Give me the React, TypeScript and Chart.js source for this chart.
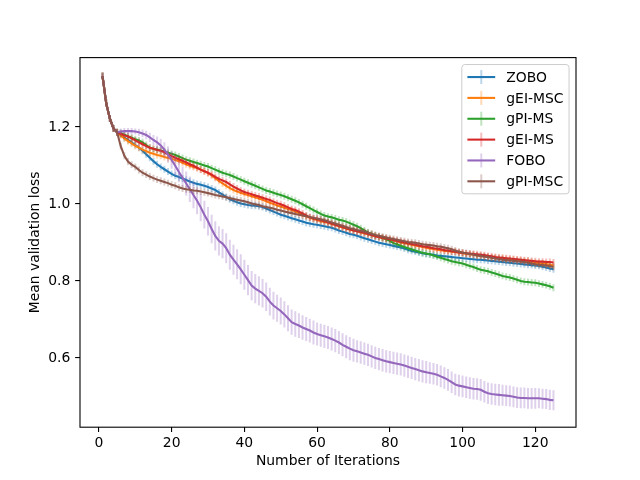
import React, { useEffect, useRef } from "react";
import { Chart, registerables } from "chart.js";

Chart.register(...registerables);

// ---------- data ----------
const iterations: number[] = Array.from({ length: 125 }, (_, i) => i + 1);

const xTicks = [0, 20, 40, 60, 80, 100, 120];
const yTicks = [0.6, 0.8, 1.0, 1.2];

const seriesLabels = ["ZOBO", "gEI-MSC", "gPI-MS", "gEI-MS", "FOBO", "gPI-MSC"];
const seriesColors = ["#1f77b4", "#ff7f0e", "#2ca02c", "#d62728", "#9467bd", "#8c564b"];
const errColors = [
  "rgba(31,119,180,0.3)",
  "rgba(255,127,14,0.3)",
  "rgba(44,160,44,0.3)",
  "rgba(214,39,40,0.3)",
  "rgba(148,103,189,0.3)",
  "rgba(140,86,75,0.3)",
];

const zobo = [
  1.332, 1.262, 1.222, 1.196, 1.186,
  1.180, 1.172, 1.166, 1.160, 1.153,
  1.146, 1.138, 1.129, 1.120, 1.111,
  1.103, 1.096, 1.090, 1.084, 1.078,
  1.073, 1.070, 1.066, 1.062, 1.058,
  1.055, 1.052, 1.050, 1.047, 1.044,
  1.040, 1.036, 1.030, 1.024, 1.018,
  1.012, 1.008, 1.004, 1.001, 0.999,
  0.997, 0.996, 0.995, 0.994, 0.992,
  0.988, 0.984, 0.980, 0.976, 0.972,
  0.969, 0.966, 0.963, 0.960, 0.957,
  0.954, 0.951, 0.949, 0.947, 0.946,
  0.944, 0.942, 0.940, 0.938, 0.935,
  0.931, 0.928, 0.925, 0.922, 0.920,
  0.917, 0.914, 0.911, 0.908, 0.905,
  0.902, 0.899, 0.897, 0.895, 0.893,
  0.891, 0.889, 0.887, 0.884, 0.881,
  0.878, 0.876, 0.874, 0.872, 0.870,
  0.869, 0.868, 0.866, 0.865, 0.864,
  0.863, 0.862, 0.861, 0.860, 0.859,
  0.858, 0.857, 0.856, 0.855, 0.855,
  0.854, 0.853, 0.852, 0.851, 0.850,
  0.849, 0.848, 0.847, 0.846, 0.845,
  0.844, 0.843, 0.842, 0.841, 0.840,
  0.839, 0.837, 0.835, 0.832, 0.830,
];

const geiMsc = [
  1.332, 1.262, 1.222, 1.196, 1.186,
  1.178, 1.170, 1.163, 1.157, 1.151,
  1.146, 1.141, 1.137, 1.133, 1.130,
  1.127, 1.125, 1.122, 1.119, 1.117,
  1.114, 1.111, 1.107, 1.103, 1.099,
  1.096, 1.093, 1.089, 1.085, 1.080,
  1.074, 1.067, 1.060, 1.053, 1.047,
  1.041, 1.036, 1.032, 1.029, 1.026,
  1.023, 1.020, 1.017, 1.014, 1.011,
  1.007, 1.003, 1.000, 0.996, 0.993,
  0.990, 0.987, 0.984, 0.980, 0.976,
  0.972, 0.968, 0.964, 0.961, 0.958,
  0.955, 0.953, 0.951, 0.948, 0.945,
  0.942, 0.939, 0.936, 0.933, 0.931,
  0.929, 0.926, 0.924, 0.921, 0.919,
  0.916, 0.914, 0.911, 0.909, 0.907,
  0.905, 0.903, 0.900, 0.898, 0.896,
  0.894, 0.892, 0.890, 0.888, 0.886,
  0.884, 0.883, 0.881, 0.880, 0.878,
  0.877, 0.876, 0.875, 0.873, 0.872,
  0.870, 0.869, 0.868, 0.866, 0.865,
  0.864, 0.862, 0.861, 0.860, 0.859,
  0.858, 0.857, 0.856, 0.855, 0.854,
  0.853, 0.852, 0.851, 0.849, 0.847,
  0.846, 0.845, 0.844, 0.842, 0.840,
];

const gpiMs = [
  1.332, 1.262, 1.222, 1.196, 1.186,
  1.184, 1.180, 1.176, 1.172, 1.168,
  1.165, 1.160, 1.153, 1.146, 1.143,
  1.141, 1.139, 1.136, 1.133, 1.130,
  1.127, 1.123, 1.119, 1.115, 1.112,
  1.109, 1.106, 1.103, 1.100, 1.097,
  1.093, 1.089, 1.085, 1.081, 1.078,
  1.075, 1.071, 1.067, 1.063, 1.059,
  1.055, 1.051, 1.047, 1.043, 1.039,
  1.035, 1.032, 1.029, 1.026, 1.023,
  1.020, 1.016, 1.012, 1.008, 1.004,
  0.999, 0.994, 0.989, 0.984, 0.979,
  0.974, 0.970, 0.967, 0.965, 0.962,
  0.959, 0.957, 0.954, 0.950, 0.946,
  0.942, 0.937, 0.931, 0.926, 0.922,
  0.918, 0.915, 0.912, 0.908, 0.904,
  0.898, 0.895, 0.891, 0.888, 0.885,
  0.882, 0.879, 0.876, 0.873, 0.871,
  0.869, 0.866, 0.863, 0.860, 0.857,
  0.854, 0.851, 0.849, 0.847, 0.845,
  0.842, 0.839, 0.836, 0.832, 0.829,
  0.827, 0.825, 0.822, 0.819, 0.816,
  0.813, 0.811, 0.809, 0.806, 0.803,
  0.800, 0.798, 0.797, 0.796, 0.795,
  0.793, 0.791, 0.789, 0.786, 0.782,
];

const geiMs = [
  1.332, 1.262, 1.222, 1.196, 1.186,
  1.182, 1.178, 1.175, 1.170, 1.165,
  1.160, 1.155, 1.150, 1.146, 1.143,
  1.140, 1.138, 1.134, 1.129, 1.124,
  1.120, 1.116, 1.112, 1.108, 1.103,
  1.099, 1.094, 1.089, 1.085, 1.081,
  1.076, 1.070, 1.065, 1.061, 1.057,
  1.051, 1.045, 1.040, 1.035, 1.031,
  1.028, 1.025, 1.022, 1.019, 1.016,
  1.013, 1.010, 1.006, 1.002, 0.999,
  0.995, 0.991, 0.987, 0.984, 0.980,
  0.975, 0.970, 0.965, 0.962, 0.960,
  0.958, 0.955, 0.952, 0.949, 0.946,
  0.943, 0.940, 0.937, 0.934, 0.931,
  0.929, 0.927, 0.925, 0.922, 0.919,
  0.916, 0.914, 0.912, 0.910, 0.908,
  0.906, 0.904, 0.902, 0.900, 0.898,
  0.896, 0.894, 0.892, 0.890, 0.889,
  0.887, 0.885, 0.884, 0.882, 0.880,
  0.879, 0.877, 0.876, 0.874, 0.873,
  0.872, 0.871, 0.870, 0.869, 0.868,
  0.867, 0.865, 0.864, 0.862, 0.861,
  0.860, 0.859, 0.858, 0.857, 0.856,
  0.855, 0.854, 0.853, 0.852, 0.851,
  0.850, 0.850, 0.849, 0.849, 0.848,
];

const fobo = [
  1.332, 1.262, 1.222, 1.196, 1.186,
  1.188, 1.189, 1.189, 1.189, 1.188,
  1.186, 1.183, 1.179, 1.173, 1.166,
  1.160, 1.152, 1.141, 1.128, 1.114,
  1.099, 1.083, 1.068, 1.053, 1.038,
  1.023, 1.008, 0.991, 0.972, 0.955,
  0.935, 0.917, 0.904, 0.897, 0.885,
  0.868, 0.855, 0.843, 0.830, 0.816,
  0.802, 0.788, 0.780, 0.774, 0.768,
  0.759, 0.746, 0.736, 0.729, 0.722,
  0.713, 0.703, 0.693, 0.688, 0.684,
  0.679, 0.675, 0.671, 0.666, 0.662,
  0.659, 0.656, 0.653, 0.649, 0.645,
  0.640, 0.634, 0.629, 0.624, 0.620,
  0.617, 0.614, 0.611, 0.608, 0.604,
  0.600, 0.597, 0.594, 0.591, 0.589,
  0.587, 0.585, 0.583, 0.580, 0.577,
  0.574, 0.571, 0.568, 0.565, 0.563,
  0.561, 0.559, 0.556, 0.552, 0.548,
  0.543, 0.537, 0.531, 0.528, 0.526,
  0.524, 0.522, 0.520, 0.519, 0.517,
  0.512, 0.508, 0.506, 0.505, 0.504,
  0.503, 0.502, 0.501, 0.499, 0.497,
  0.496, 0.496, 0.495, 0.495, 0.495,
  0.495, 0.494, 0.493, 0.491, 0.490,
];

const gpiMsc = [
  1.332, 1.262, 1.222, 1.196, 1.186,
  1.150, 1.125, 1.110, 1.102, 1.096,
  1.088, 1.081, 1.076, 1.071, 1.067,
  1.063, 1.060, 1.057, 1.054, 1.050,
  1.047, 1.043, 1.040, 1.038, 1.037,
  1.035, 1.034, 1.032, 1.030, 1.028,
  1.026, 1.023, 1.021, 1.019, 1.017,
  1.015, 1.013, 1.011, 1.009, 1.007,
  1.004, 1.001, 0.999, 0.997, 0.994,
  0.992, 0.990, 0.988, 0.985, 0.983,
  0.980, 0.978, 0.976, 0.974, 0.972,
  0.970, 0.968, 0.966, 0.964, 0.962,
  0.960, 0.958, 0.955, 0.952, 0.949,
  0.946, 0.943, 0.940, 0.937, 0.935,
  0.932, 0.930, 0.928, 0.925, 0.922,
  0.919, 0.917, 0.915, 0.913, 0.911,
  0.909, 0.907, 0.905, 0.903, 0.901,
  0.900, 0.899, 0.897, 0.895, 0.894,
  0.893, 0.892, 0.890, 0.889, 0.887,
  0.885, 0.882, 0.879, 0.876, 0.874,
  0.872, 0.870, 0.868, 0.866, 0.865,
  0.863, 0.862, 0.860, 0.858, 0.857,
  0.855, 0.854, 0.853, 0.852, 0.851,
  0.850, 0.849, 0.847, 0.845, 0.843,
  0.842, 0.841, 0.840, 0.838, 0.836,
];

// error-bar half-heights
const zoboErr = 0.009;
const geiMscErr = 0.009;
const gpiMsErr = 0.009;
const geiMsErr = 0.009;
const gpiMscErr = 0.009;
const foboErr = [
  0.008, 0.008, 0.008, 0.008, 0.008, 0.008, 0.008, 0.008, 0.008, 0.008,
  0.009, 0.010, 0.011, 0.012, 0.013, 0.015, 0.017, 0.019, 0.021, 0.023,
  0.025, 0.027, 0.029, 0.031, 0.033, 0.034, 0.035, 0.036, 0.036, 0.037,
  0.037, 0.038, 0.038, 0.038, 0.039, 0.039, 0.039, 0.039, 0.039, 0.039,
  0.039, 0.038, 0.038, 0.038, 0.037, 0.037, 0.036, 0.036, 0.035, 0.035,
  0.034, 0.034, 0.033, 0.033, 0.032, 0.032, 0.031, 0.031, 0.031, 0.030,
  0.030, 0.030, 0.030, 0.030, 0.030, 0.030, 0.030, 0.030, 0.030, 0.030,
  0.029, 0.029, 0.029, 0.029, 0.029, 0.029, 0.029, 0.029, 0.029, 0.029,
  0.029, 0.029, 0.029, 0.029, 0.029, 0.029, 0.029, 0.029, 0.029, 0.029,
  0.028, 0.028, 0.028, 0.028, 0.028, 0.028, 0.028, 0.028, 0.028, 0.028,
  0.028, 0.028, 0.028, 0.028, 0.028, 0.028, 0.028, 0.028, 0.028, 0.028,
  0.027, 0.027, 0.027, 0.027, 0.027, 0.027, 0.027, 0.027, 0.027, 0.027,
  0.026, 0.026, 0.026, 0.026, 0.026,
];

const seriesValues = [zobo, geiMsc, gpiMs, geiMs, fobo, gpiMsc];
const seriesErrors: (number | number[])[] = [zoboErr, geiMscErr, gpiMsErr, geiMsErr, foboErr, gpiMscErr];

const FONT = "'DejaVu Sans', sans-serif";
const FS = 13.9;

function errAt(i: number, k: number) {
  const e = seriesErrors[i];
  return Array.isArray(e) ? e[k] : e;
}

const errorBarPlugin = {
  id: "errorBars",
  beforeDatasetDraw(chart: any, args: any) {
    const i = args.index;
    const vals = seriesValues[i];
    const xs = chart.scales.x;
    const ys = chart.scales.y;
    const ctx = chart.ctx;
    ctx.save();
    ctx.strokeStyle = errColors[i];
    ctx.lineWidth = 2;
    ctx.beginPath();
    vals.forEach((v, k) => {
      const e = errAt(i, k);
      const px = xs.getPixelForValue(iterations[k]);
      ctx.moveTo(px, ys.getPixelForValue(v + e));
      ctx.lineTo(px, ys.getPixelForValue(v - e));
    });
    ctx.stroke();
    ctx.restore();
  },
};

const framePlugin = {
  id: "frameLegend",
  afterDatasetsDraw(chart: any) {
    const { ctx, chartArea } = chart;
    ctx.save();
    ctx.strokeStyle = "#000";
    ctx.lineWidth = 1.1;
    ctx.strokeRect(chartArea.left, chartArea.top, chartArea.right - chartArea.left, chartArea.bottom - chartArea.top);
    ctx.restore();
  },
  afterDraw(chart: any) {
    const { ctx, chartArea } = chart;
    const pad = 5.56;
    const handleLen = 27.8;
    const textPad = 11.1;
    const rowH = 20.85;
    ctx.save();
    ctx.font = `${FS}px ${FONT}`;
    let maxW = 0;
    seriesLabels.forEach((l) => (maxW = Math.max(maxW, ctx.measureText(l).width)));
    const w = pad * 2 + handleLen + textPad + maxW;
    const h = pad * 2 + 6 * FS + 5 * (rowH - FS);
    const right = chartArea.right - 6.95;
    const top = chartArea.top + 6.95;
    const left = right - w;
    ctx.beginPath();
    (ctx as any).roundRect(left, top, w, h, 3);
    ctx.fillStyle = "rgba(255,255,255,0.8)";
    ctx.fill();
    ctx.strokeStyle = "#cccccc";
    ctx.lineWidth = 1;
    ctx.stroke();
    seriesLabels.forEach((label, i) => {
      const cy = top + pad + FS / 2 + i * rowH;
      const hx0 = left + pad;
      const hx1 = hx0 + handleLen;
      const hmid = (hx0 + hx1) / 2;
      ctx.strokeStyle = errColors[i];
      ctx.lineWidth = 2;
      ctx.beginPath();
      ctx.moveTo(hmid, cy - 7);
      ctx.lineTo(hmid, cy + 7);
      ctx.stroke();
      ctx.strokeStyle = seriesColors[i];
      ctx.lineWidth = 2.08;
      ctx.beginPath();
      ctx.moveTo(hx0, cy);
      ctx.lineTo(hx1, cy);
      ctx.stroke();
      ctx.fillStyle = "#000";
      ctx.textBaseline = "middle";
      ctx.textAlign = "left";
      ctx.fillText(label, hx1 + textPad, cy + 1);
    });
    ctx.restore();
  },
};

export default function App() {
  const canvasRef = useRef<HTMLCanvasElement | null>(null);

  useEffect(() => {
    if (!canvasRef.current) return;
    const datasets = seriesLabels.map((label, i) => ({
      label,
      data: seriesValues[i].map((v, k) => ({ x: iterations[k], y: v })),
      borderColor: seriesColors[i],
      backgroundColor: seriesColors[i],
      borderWidth: 2.08,
      pointRadius: 0,
      tension: 0,
      fill: false,
      order: seriesLabels.length - 1 - i,
    }));

    const chart = new Chart(canvasRef.current, {
      type: "line",
      data: { datasets },
      plugins: [errorBarPlugin, framePlugin],
      options: {
        animation: false,
        responsive: false,
        devicePixelRatio: 1,
        layout: { padding: { left: 0, top: 57.6, right: 64, bottom: 0 } },
        plugins: {
          legend: { display: false },
          tooltip: { enabled: false },
        },
        scales: {
          x: {
            type: "linear",
            min: -5.2,
            max: 131.2,
            afterFit: (scale: any) => {
              scale.height = 52.8;
            },
            afterBuildTicks: (scale: any) => {
              scale.ticks = xTicks.map((v) => ({ value: v }));
            },
            grid: {
              drawOnChartArea: false,
              drawTicks: true,
              tickLength: 4.86,
              color: "#000",
              lineWidth: 1.1,
            },
            border: { display: false },
            ticks: {
              autoSkip: false,
              maxRotation: 0,
              padding: 3,
              color: "#000",
              font: { family: FONT, size: FS },
              callback: (v: any) => String(v),
            },
            title: {
              display: true,
              text: "Number of Iterations",
              color: "#000",
              font: { family: FONT, size: FS },
              padding: { top: 0, bottom: 10 },
            },
          },
          y: {
            type: "linear",
            min: 0.42,
            max: 1.38,
            afterFit: (scale: any) => {
              scale.width = 80;
            },
            afterBuildTicks: (scale: any) => {
              scale.ticks = yTicks.map((v) => ({ value: v }));
            },
            grid: {
              drawOnChartArea: false,
              drawTicks: true,
              tickLength: 4.86,
              color: "#000",
              lineWidth: 1.1,
            },
            border: { display: false },
            ticks: {
              autoSkip: false,
              padding: 4.86,
              color: "#000",
              font: { family: FONT, size: FS },
              callback: (v: any) => Number(v).toFixed(1),
            },
            title: {
              display: true,
              text: "Mean validation loss",
              color: "#000",
              font: { family: FONT, size: FS },
              padding: { top: 26.7, bottom: 0 },
            },
          },
        },
      } as any,
    });
    return () => chart.destroy();
  }, []);

  return (
    <div style={{ position: "absolute", left: 0, top: 0, width: 640, height: 480, background: "#fff" }}>
      <canvas ref={canvasRef} width={640} height={480} style={{ display: "block" }} />
    </div>
  );
}
